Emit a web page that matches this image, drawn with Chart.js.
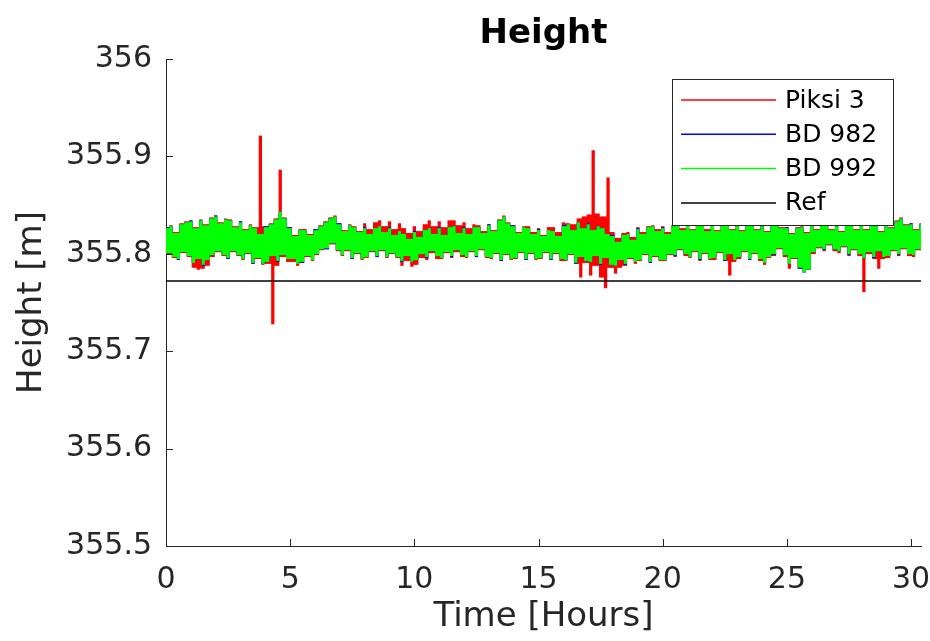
<!DOCTYPE html>
<html>
<head>
<meta charset="utf-8">
<title>Height</title>
<script src="https://cdn.jsdelivr.net/npm/chart.js@4.4.1/dist/chart.umd.min.js"></script>
<style>
    body { margin: 0; background: #fff; }
    #wrap { width: 930px; height: 641px; }
</style>
</head>
<body>
<div id="wrap"><canvas id="heightChart" width="930" height="641"></canvas></div>
<script>
// samples every 0.1 h (upper / lower edges of the noisy traces)
const sampleStep = 0.1;

const piksiHeights = [
    355.827,355.800,355.829,355.796,355.822, 355.794,355.831,355.801,355.833,355.797,
    355.834,355.786,355.827,355.784,355.835, 355.785,355.830,355.788,355.837,355.797,
    355.839,355.802,355.832,355.798,355.836, 355.795,355.835,355.802,355.828,355.798,
    355.833,355.794,355.825,355.800,355.830, 355.790,355.827,355.795,355.921,355.789,
    355.828,355.790,355.831,355.728,355.836, 355.788,355.886,355.797,355.837,355.792,
    355.827,355.792,355.819,355.788,355.825, 355.791,355.825,355.797,355.820,355.793,
    355.825,355.799,355.829,355.804,355.833, 355.805,355.837,355.810,355.839,355.803,
    355.831,355.798,355.824,355.803,355.830, 355.795,355.828,355.800,355.823,355.794,
    355.831,355.796,355.825,355.802,355.832, 355.797,355.834,355.803,355.828,355.796,
    355.833,355.800,355.825,355.796,355.831, 355.788,355.826,355.793,355.821,355.787,
    355.828,355.789,355.823,355.796,355.830, 355.794,355.834,355.801,355.828,355.795,
    355.833,355.795,355.827,355.801,355.834, 355.796,355.834,355.802,355.829,355.797,
    355.832,355.796,355.826,355.802,355.830, 355.797,355.829,355.804,355.823,355.796,
    355.830,355.795,355.824,355.800,355.835, 355.793,355.839,355.799,355.832,355.794,
    355.829,355.795,355.822,355.801,355.828, 355.794,355.828,355.800,355.822,355.794,
    355.826,355.795,355.819,355.801,355.827, 355.794,355.827,355.800,355.822,355.793,
    355.832,355.793,355.831,355.799,355.830, 355.790,355.836,355.776,355.838,355.791,
    355.840,355.778,355.906,355.788,355.841, 355.776,355.838,355.765,355.878,355.786,
    355.822,355.780,355.816,355.786,355.821, 355.788,355.822,355.795,355.817,355.790,
    355.827,355.793,355.822,355.799,355.828, 355.791,355.829,355.797,355.825,355.793,
    355.828,355.793,355.822,355.799,355.829, 355.797,355.832,355.804,355.826,355.798,
    355.831,355.796,355.825,355.802,355.831, 355.793,355.831,355.800,355.825,355.794,
    355.831,355.794,355.824,355.801,355.831, 355.793,355.831,355.778,355.825,355.792,
    355.831,355.795,355.824,355.802,355.831, 355.794,355.831,355.800,355.825,355.793,
    355.829,355.789,355.823,355.796,355.830, 355.798,355.833,355.805,355.827,355.797,
    355.827,355.785,355.821,355.795,355.827, 355.785,355.828,355.782,355.822,355.784,
    355.831,355.800,355.825,355.806,355.831, 355.803,355.831,355.809,355.825,355.803,
    355.829,355.801,355.823,355.807,355.830, 355.798,355.831,355.804,355.825,355.798,
    355.831,355.761,355.825,355.800,355.831, 355.795,355.829,355.785,355.823,355.795,
    355.833,355.796,355.827,355.803,355.834, 355.798,355.837,355.805,355.830,355.798,
    355.831,355.797,355.825,355.804,355.831
];

const bd982Heights = [
    355.827,355.801,355.828,355.797,355.821, 355.794,355.830,355.802,355.832,355.798,
    355.834,355.791,355.826,355.795,355.834, 355.788,355.829,355.794,355.836,355.799,
    355.839,355.803,355.831,355.799,355.835, 355.795,355.834,355.803,355.827,355.799,
    355.833,355.795,355.824,355.801,355.829, 355.790,355.826,355.796,355.820,355.790,
    355.828,355.792,355.830,355.798,355.835, 355.792,355.843,355.799,355.836,355.795,
    355.827,355.795,355.818,355.790,355.824, 355.791,355.824,355.798,355.819,355.794,
    355.825,355.800,355.828,355.805,355.832, 355.805,355.836,355.811,355.838,355.804,
    355.831,355.799,355.823,355.804,355.829, 355.795,355.827,355.801,355.822,355.795,
    355.827,355.797,355.820,355.803,355.826, 355.797,355.828,355.804,355.822,355.797,
    355.827,355.801,355.819,355.797,355.823, 355.792,355.820,355.798,355.815,355.792,
    355.823,355.794,355.817,355.800,355.824, 355.796,355.826,355.803,355.820,355.798,
    355.827,355.796,355.819,355.802,355.827, 355.797,355.828,355.804,355.821,355.799,
    355.827,355.797,355.820,355.803,355.827, 355.797,355.827,355.805,355.821,355.797,
    355.830,355.796,355.823,355.801,355.834, 355.793,355.838,355.800,355.831,355.795,
    355.829,355.796,355.821,355.802,355.827, 355.794,355.826,355.801,355.820,355.795,
    355.825,355.796,355.818,355.802,355.824, 355.794,355.823,355.801,355.818,355.795,
    355.829,355.794,355.830,355.800,355.824, 355.790,355.832,355.797,355.826,355.793,
    355.831,355.792,355.824,355.798,355.828, 355.789,355.826,355.796,355.820,355.789,
    355.819,355.788,355.812,355.794,355.819, 355.789,355.820,355.796,355.814,355.792,
    355.826,355.794,355.820,355.800,355.827, 355.791,355.828,355.798,355.823,355.794,
    355.827,355.794,355.820,355.800,355.828, 355.798,355.830,355.805,355.824,355.800,
    355.831,355.797,355.824,355.803,355.830, 355.794,355.830,355.801,355.823,355.795,
    355.831,355.796,355.823,355.802,355.830, 355.793,355.830,355.800,355.824,355.794,
    355.831,355.797,355.823,355.803,355.830, 355.794,355.830,355.801,355.824,355.795,
    355.829,355.791,355.822,355.797,355.829, 355.799,355.832,355.806,355.826,355.799,
    355.827,355.790,355.820,355.796,355.826, 355.785,355.827,355.781,355.821,355.784,
    355.831,355.802,355.824,355.807,355.830, 355.804,355.830,355.810,355.824,355.805,
    355.829,355.803,355.822,355.808,355.829, 355.799,355.830,355.805,355.824,355.800,
    355.831,355.796,355.824,355.802,355.830, 355.796,355.828,355.803,355.822,355.797,
    355.833,355.798,355.826,355.804,355.833, 355.799,355.836,355.806,355.829,355.800,
    355.831,355.799,355.824,355.805,355.830
];

const bd992Heights = [
    355.826,355.801,355.828,355.797,355.821, 355.795,355.830,355.802,355.832,355.798,
    355.833,355.791,355.826,355.795,355.834, 355.789,355.829,355.794,355.836,355.799,
    355.838,355.803,355.831,355.799,355.835, 355.796,355.834,355.803,355.827,355.799,
    355.832,355.795,355.824,355.801,355.829, 355.791,355.826,355.796,355.820,355.790,
    355.827,355.792,355.830,355.798,355.835, 355.793,355.843,355.799,355.836,355.795,
    355.826,355.795,355.818,355.790,355.824, 355.792,355.824,355.798,355.819,355.794,
    355.824,355.800,355.828,355.805,355.832, 355.806,355.836,355.811,355.838,355.804,
    355.830,355.799,355.823,355.804,355.829, 355.796,355.827,355.801,355.822,355.795,
    355.826,355.797,355.820,355.803,355.826, 355.798,355.828,355.804,355.822,355.797,
    355.826,355.801,355.819,355.797,355.823, 355.793,355.820,355.798,355.815,355.792,
    355.822,355.794,355.817,355.800,355.824, 355.797,355.826,355.803,355.820,355.798,
    355.826,355.796,355.819,355.802,355.827, 355.798,355.828,355.804,355.821,355.799,
    355.826,355.797,355.820,355.803,355.827, 355.798,355.827,355.805,355.821,355.797,
    355.829,355.796,355.823,355.801,355.834, 355.794,355.838,355.800,355.831,355.795,
    355.828,355.796,355.821,355.802,355.827, 355.795,355.826,355.801,355.820,355.795,
    355.824,355.796,355.818,355.802,355.824, 355.795,355.823,355.801,355.818,355.795,
    355.828,355.794,355.830,355.800,355.824, 355.791,355.832,355.797,355.826,355.793,
    355.830,355.792,355.824,355.798,355.828, 355.790,355.826,355.796,355.820,355.789,
    355.818,355.788,355.812,355.794,355.819, 355.790,355.820,355.796,355.814,355.792,
    355.825,355.794,355.820,355.800,355.827, 355.792,355.828,355.798,355.823,355.794,
    355.826,355.794,355.820,355.800,355.828, 355.799,355.830,355.805,355.824,355.800,
    355.830,355.797,355.824,355.803,355.830, 355.795,355.830,355.801,355.823,355.795,
    355.830,355.796,355.823,355.802,355.830, 355.794,355.830,355.800,355.824,355.794,
    355.830,355.797,355.823,355.803,355.830, 355.795,355.830,355.801,355.824,355.795,
    355.828,355.791,355.822,355.797,355.829, 355.800,355.832,355.806,355.826,355.799,
    355.826,355.790,355.820,355.796,355.826, 355.786,355.827,355.781,355.821,355.784,
    355.830,355.802,355.824,355.807,355.830, 355.805,355.830,355.810,355.824,355.805,
    355.828,355.803,355.822,355.808,355.829, 355.800,355.830,355.805,355.824,355.800,
    355.830,355.796,355.824,355.802,355.830, 355.797,355.828,355.803,355.822,355.797,
    355.832,355.798,355.826,355.804,355.833, 355.800,355.836,355.806,355.829,355.800,
    355.830,355.799,355.824,355.805,355.830
];

const refTimes = [0, 30.4];
const refHeights = [355.772, 355.772];

const seriesNames = ['Piksi 3', 'BD 982', 'BD 992', 'Ref'];
const seriesColors = ['#ff0000', '#0000ff', '#00ff00', '#000000'];

const xTickLabels = ['0', '5', '10', '15', '20', '25', '30'];
const yTickLabels = ['355.5', '355.6', '355.7', '355.8', '355.9', '356'];

const axisColor = '#262626';
const fontFamily = "'DejaVu Sans', sans-serif";

// dense noisy trace: each sample becomes a thin floating bar that reaches to
// the nearer of its two neighbours, so the trace fills in like the original
// many-sample plot while single outliers stay one sample wide
function toSpans(values) {
    return values.map((v, i) => {
        const prev = i > 0 ? values[i - 1] : values[i + 1];
        const next = i < values.length - 1 ? values[i + 1] : values[i - 1];
        const other = Math.abs(prev - v) < Math.abs(next - v) ? prev : next;
        return { x: Math.round(i * sampleStep * 10) / 10, y: [v, other] };
    });
}

// MATLAB style ticks pointing into the axes
const inwardTicks = {
    id: 'inwardTicks',
    afterDatasetsDraw(chart) {
        const ctx = chart.ctx;
        const { x, y } = chart.scales;
        const area = chart.chartArea;
        ctx.save();
        ctx.strokeStyle = axisColor;
        ctx.lineWidth = 1;
        ctx.beginPath();
        x.ticks.forEach(t => {
            const px = Math.round(x.getPixelForValue(t.value)) + 0.5;
            ctx.moveTo(px, area.bottom);
            ctx.lineTo(px, area.bottom - 7);
        });
        y.ticks.forEach(t => {
            const py = Math.round(y.getPixelForValue(t.value)) + 0.5;
            ctx.moveTo(area.left, py);
            ctx.lineTo(area.left + 7, py);
        });
        ctx.stroke();
        ctx.restore();
    }
};

// title and boxed legend inside the axes, top right
const titleAndLegend = {
    id: 'titleAndLegend',
    afterDraw(chart) {
        const ctx = chart.ctx;
        const area = chart.chartArea;
        ctx.save();
        ctx.fillStyle = '#000';
        ctx.font = "bold 34px " + fontFamily;
        ctx.textAlign = 'center';
        ctx.textBaseline = 'middle';
        ctx.fillText('Height', (area.left + area.right) / 2, 34);

        const boxLeft = 672, boxTop = 79, boxW = 221, boxH = 146;
        ctx.fillStyle = '#fff';
        ctx.fillRect(boxLeft, boxTop, boxW, boxH);
        ctx.strokeStyle = axisColor;
        ctx.lineWidth = 1;
        ctx.strokeRect(boxLeft + 0.5, boxTop + 0.5, boxW, boxH);

        ctx.font = "25px " + fontFamily;
        ctx.textAlign = 'left';
        chart.data.datasets.forEach((ds, i) => {
            const rowY = 100 + i * 34.3;
            ctx.strokeStyle = ds.borderColor;
            ctx.lineWidth = 1.5;
            ctx.beginPath();
            ctx.moveTo(681, rowY);
            ctx.lineTo(776, rowY);
            ctx.stroke();
            ctx.fillStyle = '#000';
            ctx.fillText(ds.label, 785, rowY + 1);
        });
        ctx.restore();
    }
};

const traceValues = [piksiHeights, bd982Heights, bd992Heights];
const drawOrder = [3, 2, 1, 0];

const datasets = traceValues.map((values, i) => ({
    type: 'bar',
    label: seriesNames[i],
    data: toSpans(values),
    borderColor: seriesColors[i],
    backgroundColor: seriesColors[i],
    borderWidth: 0,
    borderSkipped: false,
    grouped: false,
    barThickness: 2.6,
    order: drawOrder[i]
}));
datasets.push({
    type: 'line',
    label: seriesNames[3],
    data: refTimes.map((t, i) => ({ x: t, y: refHeights[i] })),
    borderColor: seriesColors[3],
    backgroundColor: seriesColors[3],
    borderWidth: 1.5,
    pointRadius: 0,
    fill: false,
    order: drawOrder[3]
});

const ctx = document.getElementById('heightChart').getContext('2d');
const heightChart = new Chart(ctx, {
    type: 'line',
    data: { datasets: datasets },
    options: {
        responsive: false,
        animation: false,
        layout: { padding: { top: 59, right: 9, bottom: 0, left: 0 } },
        plugins: {
            legend: { display: false },
            title: { display: false },
            tooltip: { enabled: false }
        },
        scales: {
            x: {
                type: 'linear',
                min: 0,
                max: 30.4,
                offset: false,
                afterFit: scale => {
                    scale.height = 95;
                    scale.paddingLeft = 0;
                    scale.paddingRight = 0;
                },
                grid: { display: true, offset: false, drawOnChartArea: false, drawTicks: false },
                border: { display: true, color: axisColor, width: 1 },
                ticks: {
                    stepSize: 5,
                    includeBounds: false,
                    padding: 16,
                    color: axisColor,
                    font: { family: fontFamily, size: 30 },
                    maxRotation: 0,
                    callback: (value, index) => xTickLabels[index]
                },
                title: {
                    display: true,
                    text: 'Time [Hours]',
                    color: axisColor,
                    font: { family: fontFamily, size: 34, lineHeight: 1 },
                    padding: { top: 0, bottom: 7 }
                }
            },
            y: {
                type: 'linear',
                min: 355.5,
                max: 356,
                afterFit: scale => {
                    scale.width = 166;
                    scale.paddingTop = 0;
                    scale.paddingBottom = 0;
                },
                grid: { display: true, drawOnChartArea: false, drawTicks: false },
                border: { display: true, color: axisColor, width: 1 },
                ticks: {
                    stepSize: 0.1,
                    padding: 14,
                    color: axisColor,
                    font: { family: fontFamily, size: 30 },
                    callback: (value, index) => yTickLabels[index]
                },
                title: {
                    display: true,
                    text: 'Height [m]',
                    color: axisColor,
                    font: { family: fontFamily, size: 34, lineHeight: 1 },
                    padding: { top: 15, bottom: 0 }
                }
            }
        }
    },
    plugins: [inwardTicks, titleAndLegend]
});
</script>
</body>
</html>
